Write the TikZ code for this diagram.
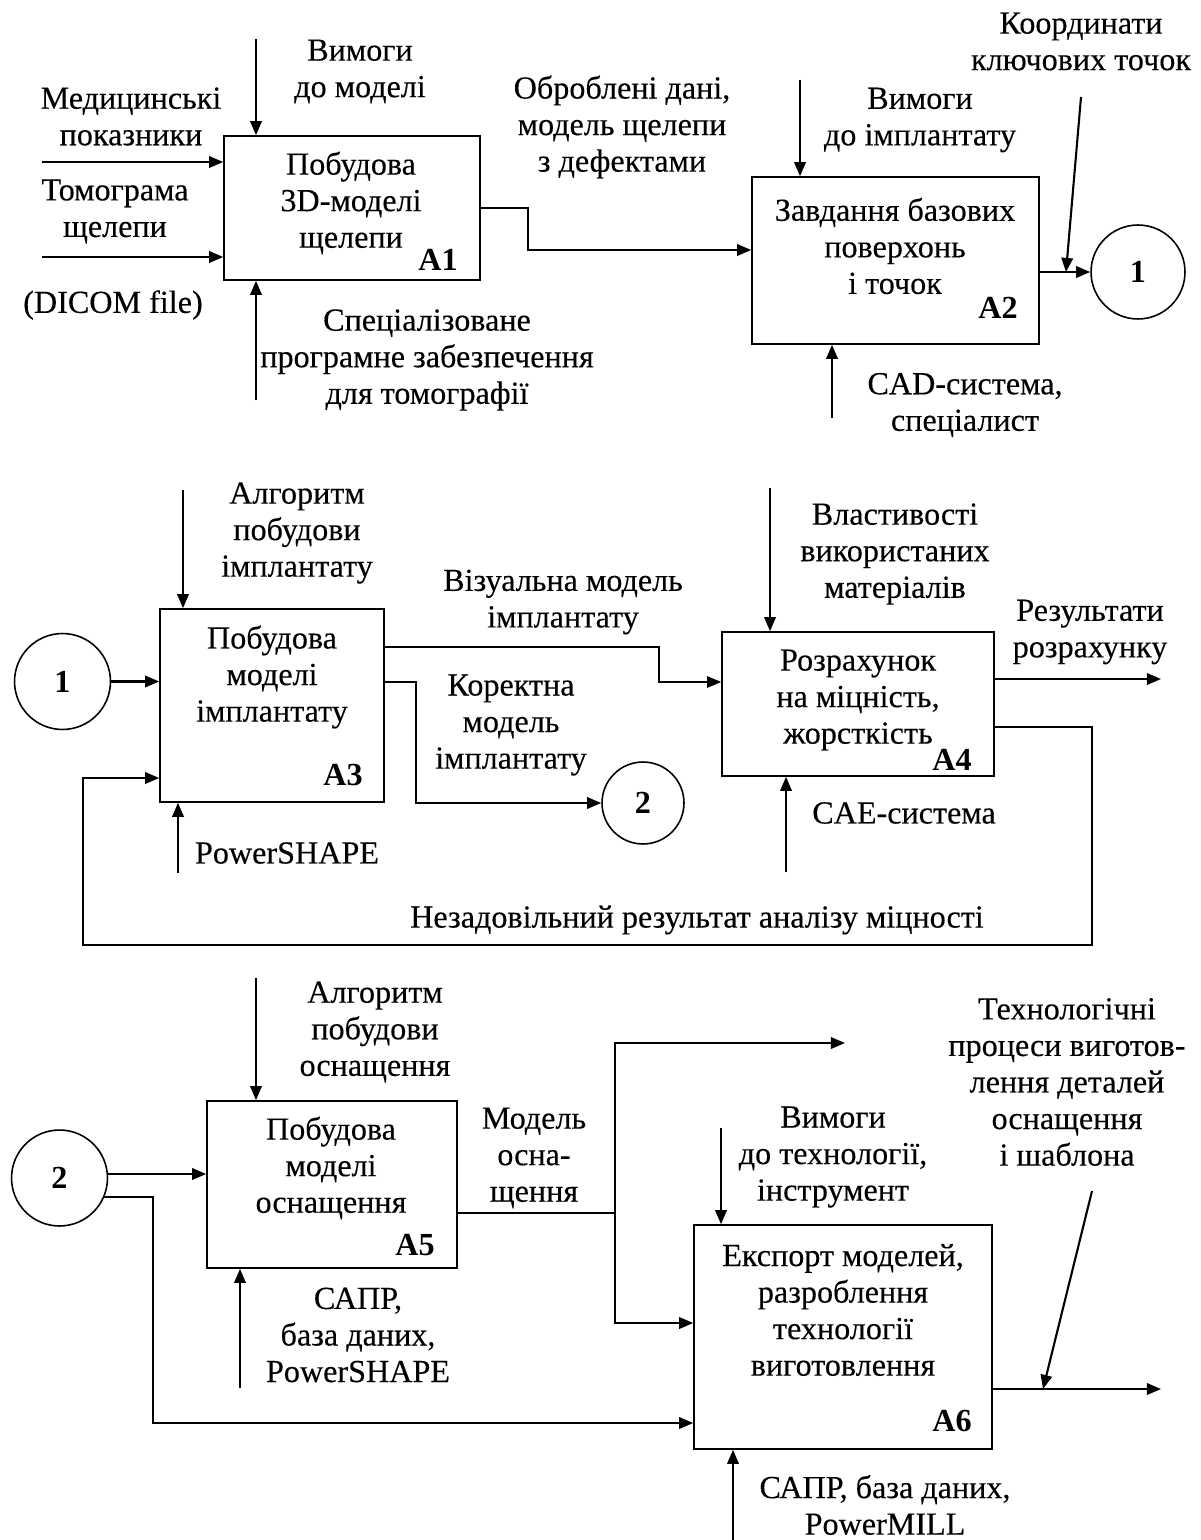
\documentclass[tikz,border=0pt]{standalone}
\usepackage{fontspec}
\setmainfont{Liberation Serif}[UprightFeatures={FakeBold=0.25}]
\usetikzlibrary{arrows.meta,calc}
\tikzset{
  boxnode/.style 2 args={draw,line width=0.9pt,inner sep=0pt,minimum width=#1*0.02cm,minimum height=#2*0.02cm},
  circnode/.style={draw,circle,line width=0.9pt,inner sep=0pt,minimum size=#1*0.04cm,font=\fontsize{18.3}{20.8}\selectfont\bfseries},
  lbl/.style={align=center,inner sep=0pt},
  tag/.style={inner sep=0pt,font=\fontsize{18.3}{20.8}\selectfont\bfseries},
  arr/.style={line width=1.2pt,-{Triangle[length=8pt,width=6.5pt]}},
  tarr/.style={line width=0.8pt,-{Triangle[length=8pt,width=6.5pt]}},
  ln/.style={line width=1.2pt},
  tln/.style={line width=0.8pt}
}
\begin{document}
\begin{tikzpicture}[x=0.02cm,y=-0.02cm,font=\fontsize{18.3}{20.8}\selectfont]
\useasboundingbox (0,0) rectangle (1200,1540);
\fill[white] (0,0) rectangle (1200,1540);

% ---------- boxes ----------
\node[boxnode={256}{144}] (A1) at (352,208) {};
\node[boxnode={287}{167}] (A2) at (895.5,260.5) {};
\node[boxnode={224}{193}] (A3) at (272,705.5) {};
\node[boxnode={272}{144}] (A4) at (858,704) {};
\node[boxnode={250}{167}] (A5) at (332,1184.5) {};
\node[boxnode={298}{224}] (A6) at (843,1337) {};

% ---------- circles ----------
\node[circnode=47] (C1a) at (1138,272) {1};
\node[circnode=48] (C1b) at (62.5,681.5) {1};
\node[circnode=41] (C2a) at (643,803) {2};
\node[circnode=48] (C2b) at (59.5,1178) {2};

% ---------- box titles and tags ----------
\node[lbl] (A1t) at (351,203) {Побудова\\3D-моделі\\щелепи};
\node[tag] (A1l) at (438,260) {A1};
\node[lbl] (A2t) at (895,246) {Завдання базових\\поверхонь\\і точок};
\node[tag] (A2l) at (998,308) {A2};
\node[lbl] (A3t) at (272,677) {Побудова\\моделі\\імплантату};
\node[tag] (A3l) at (343,775) {A3};
\node[lbl] (A4t) at (858,700) {Розрахунок\\на міцність,\\жорсткість};
\node[tag] (A4l) at (952,760) {A4};
\node[lbl] (A5t) at (331,1168) {Побудова\\моделі\\оснащення};
\node[tag] (A5l) at (415,1245) {A5};
\node[lbl] (A6t) at (843,1310) {Експорт моделей,\\разроблення\\технології\\виготовлення};
\node[tag] (A6l) at (952,1421) {A6};

% ---------- labels ----------
\node[lbl] (L1) at (131,116.5) {Медицинські\\показники};
\node[lbl] (L2) at (115,211.5) {Томограма\\щелепи};
\node[lbl] (L3) at (113,305) {(DICOM file)};
\node[lbl] (L4) at (360,71.5) {Вимоги\\до моделі};
\node[lbl] (L5) at (622,127) {Оброблені дані,\\модель щелепи\\з дефектами};
\node[lbl] (L6) at (920,120) {Вимоги\\до імплантату};
\node[lbl] (L7) at (1081,41.5) {Координати\\ключових точок};
\node[lbl] (L8) at (427,360) {Спеціалізоване\\програмне забезпечення\\для томографії};
\node[lbl] (L9) at (965,405) {CAD-система,\\спеціалист};

\node[lbl] (L10) at (297,533) {Алгоритм\\побудови\\імплантату};
\node[lbl] (L11) at (563,602) {Візуальна модель\\імплантату};
\node[lbl] (L12) at (511,725) {Коректна\\модель\\імплантату};
\node[lbl] (L13) at (895,554) {Властивості\\використаних\\матеріалів};
\node[lbl] (L14) at (1090,632) {Результати\\розрахунку};
\node[lbl] (L15) at (287,853) {PowerSHAPE};
\node[lbl] (L16) at (904,813) {CAE-система};
\node[lbl] (L17) at (697,920) {Незадовільний результат аналізу міцності};

\node[lbl] (L18) at (375,1032) {Алгоритм\\побудови\\оснащення};
\node[lbl] (L19) at (534,1158) {Модель\\осна-\\щення};
\node[lbl] (L20) at (358,1335) {САПР,\\база даних,\\PowerSHAPE};
\node[lbl] (L21) at (833,1157) {Вимоги\\до технології,\\інструмент};
\node[lbl] (L22) at (1067,1082) {Технологічні\\процеси виготов-\\лення деталей\\оснащення\\і шаблона};
\node[lbl] (L23) at (885,1505) {САПР, база даних,\\PowerMILL};

% ---------- free ends ----------
\coordinate (i11) at (42,162);
\coordinate (i12) at (42,257);
\coordinate (c1) at (256,39);
\coordinate (m1) at (256,400);
\coordinate (j1) at (528,250);
\coordinate (c2) at (800,80);
\coordinate (m2) at (832,418);
\coordinate (k1) at (1081,97);
\coordinate (k2) at (1066,272);

\coordinate (c3) at (183,490);
\coordinate (m3) at (178,873);
\coordinate (v0) at (0,647);
\coordinate (vj) at (659,682);
\coordinate (k0) at (0,682);
\coordinate (kj) at (416,803);
\coordinate (c4) at (770,488);
\coordinate (r1) at (1161,679);
\coordinate (f1) at (1092,727);
\coordinate (f2) at (83,945);
\coordinate (f3) at (83,778);
\coordinate (m4) at (786,872);

\coordinate (c5) at (256,978);
\coordinate (a5i) at (0,1174);
\coordinate (b1) at (153,1423);
\coordinate (m5) at (240,1388);
\coordinate (s0) at (615,1213);
\coordinate (s1) at (845,1043);
\coordinate (s2) at (615,1323);
\coordinate (c6) at (721,1128);
\coordinate (r2) at (1161,1389);
\coordinate (t1) at (1092,1191);
\coordinate (t2) at (1043,1389);
\coordinate (m6) at (733,1540);

% ---------- connectors row 1 ----------
\draw[arr] (i11) -- (i11 -| A1.west);
\draw[arr] (i12) -- (i12 -| A1.west);
\draw[arr] (c1) -- (c1 |- A1.north);
\draw[arr] (m1) -- (m1 |- A1.south);
\draw[arr] (A1.east) -| (j1) -- (j1 -| A2.west);
\draw[arr] (c2) -- (c2 |- A2.north);
\draw[arr] (m2) -- (m2 |- A2.south);
\draw[arr] (C1a.west -| A2.east) -- (C1a.west);
\draw[arr] (k1) -- (k2);

% ---------- connectors row 2 ----------
\draw[arr] (c3) -- (c3 |- A3.north);
\draw[arr] (C1b.east) -- (C1b.east -| A3.west);
\draw[arr] (m3) -- (m3 |- A3.south);
\draw[tarr] (v0 -| A3.east) -| (vj) -- (vj -| A4.west);
\draw[arr] (k0 -| A3.east) -| (kj) -- (C2a.west);
\draw[arr] (c4) -- (c4 |- A4.north);
\draw[arr] (r1 -| A4.east) -- (r1);
\draw[arr] (f1 -| A4.east) -- (f1) |- (f2) -- (f3) -- (f3 -| A3.west);
\draw[arr] (m4) -- (m4 |- A4.south);

% ---------- connectors row 3 ----------
\draw[arr] (c5) -- (c5 |- A5.north);
\draw[arr] (a5i -| C2b.east) -- (a5i -| A5.west);
\draw[arr] (C2b.-23) -| (b1) -- (b1 -| A6.west);
\draw[arr] (m5) -- (m5 |- A5.south);
\draw[tln] (s0 -| A5.east) -- (s0);
\draw[arr] (s0) |- (s1);
\draw[arr] (s0) -- (s2) -- (s2 -| A6.west);
\draw[arr] (c6) -- (c6 |- A6.north);
\draw[arr] (r2 -| A6.east) -- (r2);
\draw[arr] (t1) -- (t2);
\draw[arr] (m6) -- (m6 |- A6.south);
\end{tikzpicture}
\end{document}
